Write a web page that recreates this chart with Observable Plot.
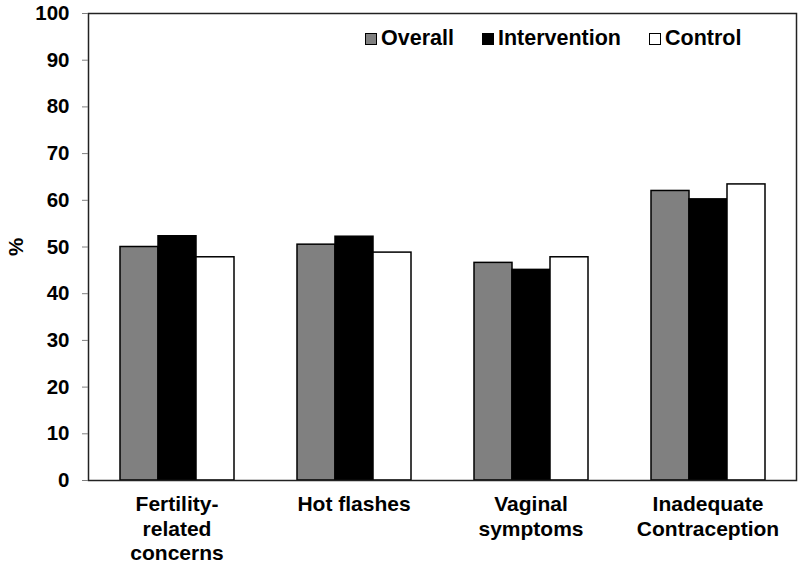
<!DOCTYPE html>
<html>
<head>
<meta charset="utf-8">
<script src="https://cdn.jsdelivr.net/npm/d3@7"></script>
<script src="https://cdn.jsdelivr.net/npm/@observablehq/plot@0.6"></script>
<style>
  html, body { margin: 0; padding: 0; background: #fff; }
  #wrap { position: relative; width: 800px; height: 569px; font-family: "Liberation Sans", Arial, sans-serif; }
  #legend { position: absolute; left: 365px; top: 26px; display: flex; gap: 28px; align-items: center;
            font-size: 21.5px; font-weight: bold; color: #000; }
  #legend .item { display: flex; align-items: center; gap: 4px; }
  #legend .sw { width: 10px; height: 10px; border: 1px solid #000; }
</style>
</head>
<body>
<div id="wrap"><div id="legend"></div></div>
<script>
const categories = ["Fertility-related concerns", "Hot flashes", "Vaginal symptoms", "Inadequate Contraception"];
const categoryLabels = ["Fertility-\nrelated\nconcerns", "Hot flashes", "Vaginal\nsymptoms", "Inadequate\nContraception"];
const series = ["Overall", "Intervention", "Control"];
const overall = [50.0, 50.5, 46.6, 62.0];
const intervention = [52.3, 52.2, 45.1, 60.2];
const control = [47.8, 48.8, 47.8, 63.4];
const seriesColors = ["#808080", "#000000", "#ffffff"];
const yTicks = [0, 10, 20, 30, 40, 50, 60, 70, 80, 90, 100];

const valuesBySeries = [overall, intervention, control];
const data = [];
categories.forEach((c, i) => {
  series.forEach((s, j) => data.push({category: c, series: s, value: valuesBySeries[j][i]}));
});
const labelOf = new Map(categories.map((c, i) => [c, categoryLabels[i]]));

const chart = Plot.plot({
  width: 800,
  height: 569,
  marginTop: 13,
  marginBottom: 89,
  marginLeft: 87,
  marginRight: 3,
  style: {fontFamily: "'Liberation Sans', Arial, sans-serif", fontWeight: "bold", fontSize: "20px", color: "#000", background: "#fff"},
  fx: {domain: categories, padding: 0},
  x: {domain: series, paddingInner: 0, paddingOuter: 0.78, axis: null},
  y: {domain: [0, 100]},
  color: {domain: series, range: seriesColors},
  marks: [
    Plot.barY(data, {fx: "category", x: "series", y: "value", fill: "series", stroke: "#000", strokeWidth: 1.5}),
    Plot.frame({facet: "super", stroke: "#222", strokeWidth: 1.5}),
    Plot.axisY({ticks: yTicks, tickSize: 6, tickPadding: 13, stroke: "#808080", fill: "#000",
                fontSize: 20.5, fontWeight: "bold",
                label: "%", labelAnchor: "center", labelArrow: "none", labelOffset: 80}),
    Plot.axisFx({anchor: "bottom", tickSize: 0, tickPadding: 13, fontSize: 21, fontWeight: "bold", lineHeight: 1.17,
                 tickFormat: d => labelOf.get(d), label: null})
  ]
});
document.getElementById("wrap").prepend(chart);

const legend = document.getElementById("legend");
series.forEach((s, j) => {
  const item = document.createElement("div");
  item.className = "item";
  const sw = document.createElement("span");
  sw.className = "sw";
  sw.style.background = seriesColors[j];
  const t = document.createElement("span");
  t.textContent = s;
  item.append(sw, t);
  legend.append(item);
});
</script>
</body>
</html>
